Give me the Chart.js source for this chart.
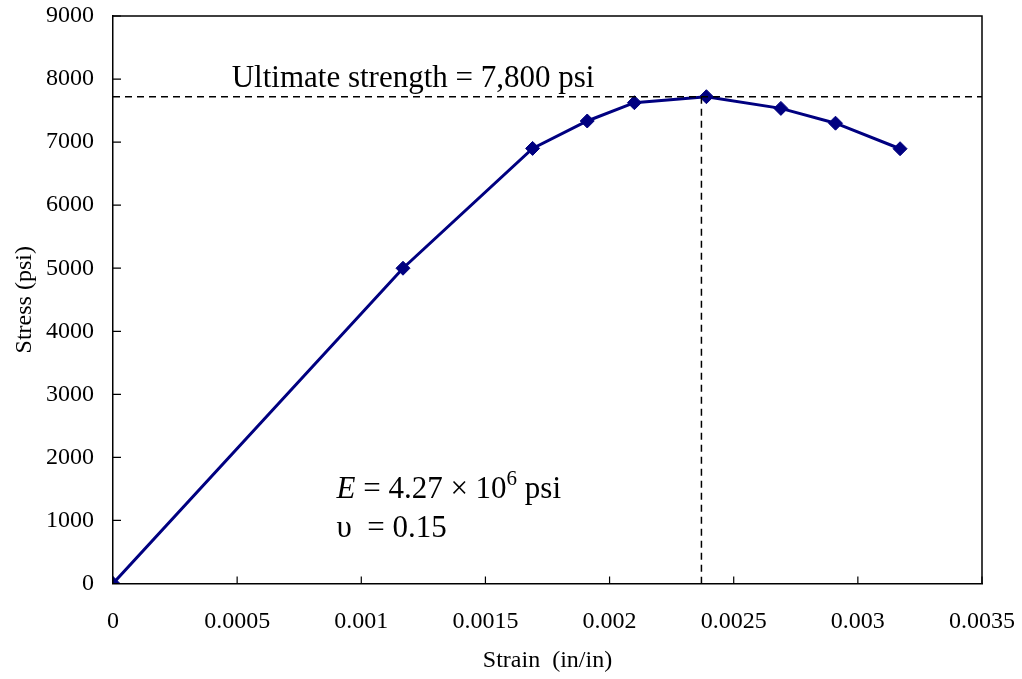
<!DOCTYPE html>
<html>
<head>
<meta charset="utf-8">
<script src="https://cdn.jsdelivr.net/npm/chart.js@4"></script>
<style>
  html, body { margin: 0; padding: 0; background: #fff; }
  #wrap { width: 1022px; height: 679px; }
</style>
</head>
<body>
<div id="wrap"><canvas id="kurva"></canvas></div>
<script>
"use strict";

// data
var strain = [0, 0.001168, 0.00169, 0.00191, 0.0021, 0.00239, 0.00269, 0.00291, 0.00317];
var stress = [0, 5000, 6900, 7335, 7625, 7720, 7535, 7300, 6895];
var xTicks = [0, 0.0005, 0.001, 0.0015, 0.002, 0.0025, 0.003, 0.0035];
var yTicks = [0, 1000, 2000, 3000, 4000, 5000, 6000, 7000, 8000, 9000];
var ultimateStress = 7720;
var ultimateStrain = 0.00237;

var fontFam = "'Liberation Serif', 'Times New Roman', serif";
var warnaGaris = "#000080";

// frame, inner ticks and annotations
var hiasan = {
  id: "hiasan",
  afterDraw: function (chart) {
    var ctx = chart.ctx;
    var a = chart.chartArea;
    var sx = chart.scales.x;
    var sy = chart.scales.y;
    ctx.save();
    ctx.strokeStyle = "#000";
    ctx.lineWidth = 1.5;
    ctx.beginPath();
    ctx.moveTo(a.left, a.top);
    ctx.lineTo(a.right, a.top);
    ctx.lineTo(a.right, a.bottom);
    ctx.stroke();

    ctx.lineWidth = 1.2;
    ctx.beginPath();
    yTicks.forEach(function (v) {
      var py = sy.getPixelForValue(v);
      ctx.moveTo(a.left, py);
      ctx.lineTo(a.left + 8, py);
    });
    xTicks.forEach(function (v) {
      var px = sx.getPixelForValue(v);
      ctx.moveTo(px, a.bottom);
      ctx.lineTo(px, a.bottom - 7);
    });
    ctx.stroke();

    // dashed lines
    ctx.setLineDash([7, 5]);
    ctx.lineWidth = 1.5;
    var hy = sy.getPixelForValue(ultimateStress);
    var vx = sx.getPixelForValue(ultimateStrain);
    ctx.beginPath();
    ctx.moveTo(a.left, hy);
    ctx.lineTo(a.right, hy);
    ctx.moveTo(vx, hy);
    ctx.lineTo(vx, a.bottom);
    ctx.stroke();
    ctx.setLineDash([]);

    // texts
    ctx.fillStyle = "#000";
    ctx.textBaseline = "alphabetic";
    ctx.textAlign = "left";
    ctx.font = "31px " + fontFam;
    ctx.fillText("Ultimate strength = 7,800 psi",
      sx.getPixelForValue(0.000478), sy.getPixelForValue(7878));

    var ex = sx.getPixelForValue(0.0009);
    var ey = sy.getPixelForValue(1356);
    ctx.font = "italic 31px " + fontFam;
    ctx.fillText("E", ex, ey);
    ex += ctx.measureText("E").width;
    ctx.font = "31px " + fontFam;
    var s1 = " = 4.27 \u00d7 10";
    ctx.fillText(s1, ex, ey);
    ex += ctx.measureText(s1).width;
    ctx.font = "21px " + fontFam;
    ctx.fillText("6", ex, ey - 13);
    ex += ctx.measureText("6").width;
    ctx.font = "31px " + fontFam;
    ctx.fillText(" psi", ex, ey);

    ctx.fillText("\u03c5  = 0.15", sx.getPixelForValue(0.0009), sy.getPixelForValue(737));
    ctx.restore();
  },
};

var kanvas = document.getElementById("kurva").getContext("2d");
var grafik = new Chart(kanvas, {
  type: "line",
  data: {
    datasets: [
      {
        label: "Stress",
        data: strain.map(function (v, i) {
          return { x: v, y: stress[i] };
        }),
        borderColor: warnaGaris,
        backgroundColor: warnaGaris,
        borderWidth: 3,
        pointStyle: "rectRot",
        pointRadius: 7,
        pointBorderWidth: 1,
        tension: 0,
      },
    ],
  },
  options: {
    responsive: true,
    maintainAspectRatio: false,
    animation: false,
    layout: { padding: { left: 0, right: 40, top: 16, bottom: 0 } },
    plugins: {
      legend: { display: false },
      tooltip: { enabled: false },
    },
    scales: {
      x: {
        type: "linear",
        min: 0,
        max: 0.0035,
        afterBuildTicks: function (s) {
          s.ticks = xTicks.map(function (v) {
            return { value: v };
          });
        },
        afterFit: function (s) {
          s.height = 95.5;
          s.paddingLeft = 0;
          s.paddingRight = 0;
        },
        grid: { display: false },
        border: { display: true, color: "#000", width: 1.5 },
        ticks: {
          color: "#000",
          padding: 16,
          maxRotation: 0,
          font: { family: fontFam, size: 24 },
          callback: function (v) {
            return String(Number(Number(v).toFixed(4)));
          },
        },
        title: {
          display: true,
          text: "Strain  (in/in)",
          color: "#000",
          font: { family: fontFam, size: 24 },
          padding: { top: 0, bottom: 4 },
        },
      },
      y: {
        min: 0,
        max: 9000,
        afterBuildTicks: function (s) {
          s.ticks = yTicks.map(function (v) {
            return { value: v };
          });
        },
        afterFit: function (s) {
          s.width = 113;
          s.paddingTop = 0;
          s.paddingBottom = 0;
        },
        grid: { display: false },
        border: { display: true, color: "#000", width: 1.5 },
        ticks: {
          color: "#000",
          padding: 11,
          font: { family: fontFam, size: 24 },
          callback: function (v) {
            return String(v);
          },
        },
        title: {
          display: true,
          text: "Stress (psi)",
          color: "#000",
          font: { family: fontFam, size: 24 },
          padding: { top: 10, bottom: 0 },
        },
      },
    },
  },
  plugins: [hiasan],
});
</script>
</body>
</html>
